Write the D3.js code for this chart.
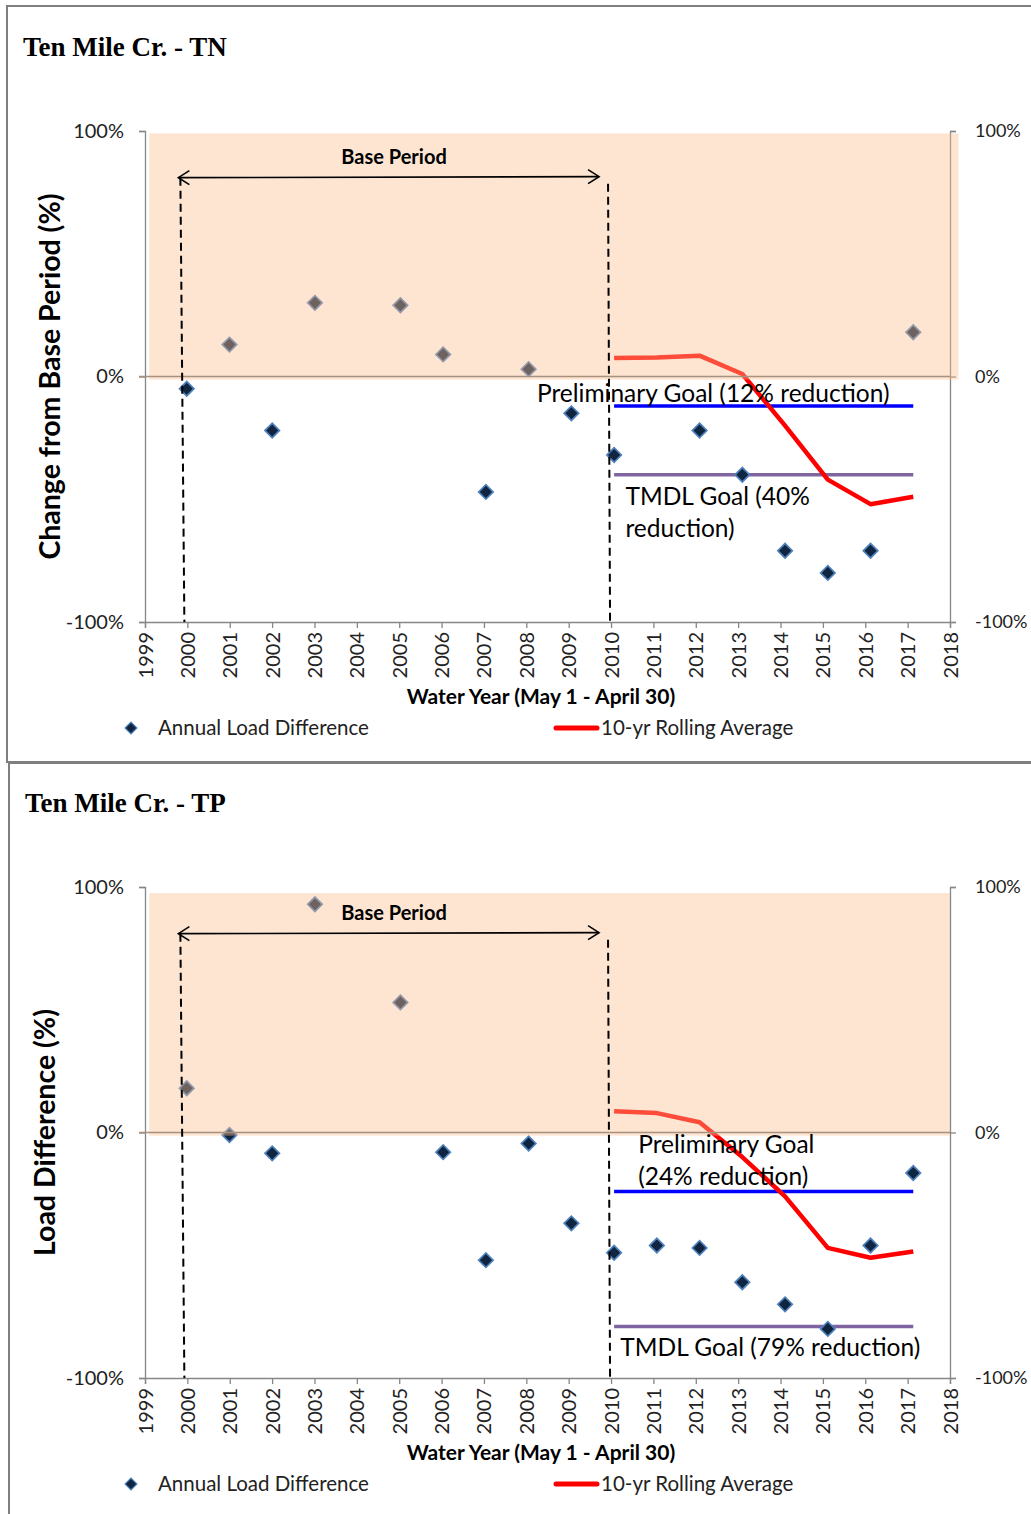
<!DOCTYPE html>
<html>
<head>
<meta charset="utf-8">
<script src="https://cdn.jsdelivr.net/npm/d3@7"></script>
<style>
  body { margin: 0; background: #fff; }
  text { font-family: Lato, "Open Sans", sans-serif; }
</style>
</head>
<body>
<svg id="chart" width="1031" height="1514"></svg>
<script>
// ---- data ----
var waterYears = [2000, 2001, 2002, 2003, 2004, 2005, 2006, 2007, 2008, 2009, 2010, 2011, 2012, 2013, 2014, 2015, 2016, 2017];
var tnAnnual = [-5, 13, -22, 30, null, 29, 9, -47, 3, -15, -32, null, -22, -40, -71, -80, -71, 18];
var tpAnnual = [18, -1, -8.5, 93, null, 53, -8, -52, -4.5, -37, -49, -46, -47, -61, -70, -80, -46, -16.5];

var rollingYears = [2010, 2011, 2012, 2013, 2014, 2015, 2016, 2017];
var tnRolling = [7.5, 7.7, 8.5, 1, -20, -42, -52, -49];
var tpRolling = [8.7, 7.9, 4.2, -10, -26, -47, -51, -48.5];

var goalYears = [2010, 2017];
var tnGoals = { prelim: -12, tmdl: -40 };
var tpGoals = { prelim: -24, tmdl: -79 };

var basePeriod = [2000, 2010];
var yearTicks = [1999, 2000, 2001, 2002, 2003, 2004, 2005, 2006, 2007, 2008, 2009, 2010, 2011, 2012, 2013, 2014, 2015, 2016, 2017, 2018];
var pctTicks = [-100, 0, 100];

var svg = d3.select("#chart");

// panel frames
svg.append("rect").attr("x", 7).attr("y", 6).attr("width", 1100).attr("height", 756)
  .attr("fill", "none").attr("stroke", "#7f7f7f").attr("stroke-width", 2);
svg.append("rect").attr("x", 9).attr("y", 763).attr("width", 1100).attr("height", 800)
  .attr("fill", "none").attr("stroke", "#7f7f7f").attr("stroke-width", 2);

// open arrow heads for the base period arrow
var defs = svg.append("defs");
["start", "end"].forEach(function (k) {
  defs.append("marker")
    .attr("id", "head-" + k)
    .attr("viewBox", "-13 -9 15 18")
    .attr("markerWidth", 15).attr("markerHeight", 18)
    .attr("markerUnits", "userSpaceOnUse")
    .attr("refX", 0).attr("refY", 0)
    .attr("orient", k === "start" ? "auto-start-reverse" : "auto")
    .append("path")
    .attr("d", "M-11,-7 L0,0 L-11,7")
    .attr("fill", "none").attr("stroke", "#000").attr("stroke-width", 1.6);
});

var left = 145, right = 950, top0 = 131, bottom0 = 622;

function drawPanel(opt) {
  var g = svg.append("g").attr("transform", "translate(0," + opt.offset + ")");

  // axis scale, and the (slightly wider) scale the series are plotted on
  var x = d3.scaleLinear().domain([1999, 2018]).range([left, right]);
  var xd = d3.scaleLinear().domain([1999, 2018]).range([left - 1, right + 6]);
  var y = d3.scaleLinear().domain([-100, 100]).range([bottom0, top0]);

  // title
  g.append("text").attr("x", opt.titleX).attr("y", 56)
    .style("font-family", "'Liberation Serif', 'Times New Roman', serif")
    .style("font-weight", "bold").style("font-size", "27px")
    .text(opt.title);

  // axes
  var yl = g.append("g").attr("transform", "translate(" + left + ",0)")
    .call(d3.axisLeft(y).tickValues(pctTicks).tickSize(6).tickPadding(15).tickFormat(function (d) { return d + "%"; }));
  var yr = g.append("g").attr("transform", "translate(" + right + ",0)")
    .call(d3.axisRight(y).tickValues(pctTicks).tickSize(6).tickPadding(19).tickFormat(function (d) { return d + "%"; }));
  var xb = g.append("g").attr("transform", "translate(0," + bottom0 + ")")
    .call(d3.axisBottom(x).tickValues(yearTicks).tickSize(6).tickFormat(d3.format("d")));
  [yl, yr, xb].forEach(function (a) {
    a.select(".domain").attr("stroke", "#868686").attr("stroke-width", 1.3);
    a.selectAll(".tick line").attr("stroke", "#868686").attr("stroke-width", 1.3);
    a.selectAll("text").style("font-size", "20px").style("font-family", "Lato, sans-serif").attr("fill", "#222");
  });
  yr.selectAll("text").style("font-size", "18px");
  xb.selectAll("text")
    .attr("transform", "rotate(-90)")
    .attr("x", -10).attr("y", 0).attr("dy", "0.35em")
    .style("text-anchor", "end");

  // axis titles
  g.append("text")
    .attr("transform", "translate(" + opt.yTitleX + "," + y(0) + ") rotate(-90)")
    .attr("text-anchor", "middle").attr("dy", "0.35em")
    .style("font-weight", "bold").style("font-size", "28.5px")
    .text(opt.yTitle);
  g.append("text").attr("x", 541).attr("y", 704).attr("text-anchor", "middle")
    .style("font-weight", "bold").style("font-size", "21px")
    .text("Water Year (May 1 - April 30)");

  // goal lines
  g.append("line")
    .attr("x1", xd(goalYears[0])).attr("x2", xd(goalYears[1]))
    .attr("y1", y(opt.goals.prelim)).attr("y2", y(opt.goals.prelim))
    .attr("stroke", "#0000ff").attr("stroke-width", 3.5);
  g.append("line")
    .attr("x1", xd(goalYears[0])).attr("x2", xd(goalYears[1]))
    .attr("y1", y(opt.goals.tmdl)).attr("y2", y(opt.goals.tmdl))
    .attr("stroke", "#8064a2").attr("stroke-width", 3.5);

  // rolling average
  var line = d3.line().x(function (d) { return xd(d[0]); }).y(function (d) { return y(d[1]); });
  g.append("path")
    .datum(d3.zip(rollingYears, opt.rolling))
    .attr("d", line)
    .attr("fill", "none").attr("stroke", "#ff0000").attr("stroke-width", 4.5)
    .attr("stroke-linejoin", "round");

  // annual points
  var pts = d3.zip(waterYears, opt.annual).filter(function (d) { return d[1] != null; });
  var diamond = d3.symbol(d3.symbolSquare, 105);
  g.selectAll(".pt").data(pts).enter().append("path")
    .attr("class", "pt")
    .attr("d", diamond)
    .attr("transform", function (d) { return "translate(" + xd(d[0]) + "," + y(d[1]) + ") rotate(45)"; })
    .attr("fill", "#10253f").attr("stroke", "#4f81bd").attr("stroke-width", 1.7);

  // base period shading (semi transparent, over the marks)
  g.append("rect")
    .attr("x", x(1999.1)).attr("y", y(opt.shadeTop))
    .attr("width", x(opt.shadeRight) - x(1999.1))
    .attr("height", y(-1.3) - y(opt.shadeTop))
    .attr("fill", "#f9bf8f").attr("opacity", 0.4);

  // zero line
  g.append("line")
    .attr("x1", left - 6).attr("x2", right)
    .attr("y1", y(0)).attr("y2", y(0))
    .attr("stroke", "#a8917e").attr("stroke-width", 1.3);

  // base period markers
  var arrowY = y(81);
  g.append("line")
    .attr("x1", x(basePeriod[0]) - 7).attr("x2", x(basePeriod[0]) - 3)
    .attr("y1", arrowY).attr("y2", bottom0)
    .attr("stroke", "#000").attr("stroke-width", 2).attr("stroke-dasharray", "8,5");
  g.append("line")
    .attr("x1", x(basePeriod[1]) - 3).attr("x2", x(basePeriod[1]) - 1)
    .attr("y1", arrowY + 6).attr("y2", bottom0)
    .attr("stroke", "#000").attr("stroke-width", 2).attr("stroke-dasharray", "8,5");
  g.append("line")
    .attr("x1", x(basePeriod[0]) - 9).attr("x2", x(basePeriod[1]) - 12)
    .attr("y1", arrowY).attr("y2", arrowY - 1)
    .attr("stroke", "#000").attr("stroke-width", 1.6)
    .attr("marker-start", "url(#head-start)").attr("marker-end", "url(#head-end)");
  g.append("text").attr("x", 394).attr("y", y(89.5)).attr("dy", "0.35em")
    .attr("text-anchor", "middle")
    .style("font-weight", "bold").style("font-size", "20px")
    .text("Base Period");

  // goal labels
  var pl = g.append("text").style("font-size", "24.5px");
  opt.prelimLabel.forEach(function (s, i, arr) {
    pl.append("tspan").attr("x", x(opt.prelimX))
      .attr("y", y(opt.goals.prelim) - opt.prelimGap - (arr.length - 1 - i) * 32)
      .text(s);
  });
  var tl = g.append("text").style("font-size", "24.5px");
  opt.tmdlLabel.forEach(function (s, i) {
    tl.append("tspan").attr("x", x(opt.tmdlX))
      .attr("y", y(opt.goals.tmdl) + 30 + i * 32)
      .text(s);
  });

  // legend
  g.append("path").attr("d", d3.symbol(d3.symbolSquare, 70))
    .attr("transform", "translate(131,728) rotate(45)")
    .attr("fill", "#10253f").attr("stroke", "#4f81bd").attr("stroke-width", 1.2);
  g.append("text").attr("x", 158).attr("y", 735).style("font-size", "20.5px").attr("fill", "#222")
    .text("Annual Load Difference");
  g.append("line").attr("x1", 556).attr("x2", 597).attr("y1", 728).attr("y2", 728)
    .attr("stroke", "#ff0000").attr("stroke-width", 5).attr("stroke-linecap", "round");
  g.append("text").attr("x", 601).attr("y", 735).style("font-size", "20.5px").attr("fill", "#222")
    .text("10-yr Rolling Average");
}

drawPanel({
  offset: 0, titleX: 23, title: "Ten Mile Cr. - TN",
  yTitle: "Change from Base Period (%)", yTitleX: 50,
  annual: tnAnnual, rolling: tnRolling, goals: tnGoals,
  shadeTop: 99, shadeRight: 2018.2,
  prelimLabel: ["Preliminary Goal (12% reduction)"], prelimX: 2008.25, prelimGap: 4,
  tmdlLabel: ["TMDL Goal (40%", "reduction)"], tmdlX: 2010.34
});

drawPanel({
  offset: 756, titleX: 25, title: "Ten Mile Cr. - TP",
  yTitle: "Load Difference (%)", yTitleX: 45,
  annual: tpAnnual, rolling: tpRolling, goals: tpGoals,
  shadeTop: 97.5, shadeRight: 2018,
  prelimLabel: ["Preliminary Goal", "(24% reduction)"], prelimX: 2010.64, prelimGap: 6,
  tmdlLabel: ["TMDL Goal (79% reduction)"], tmdlX: 2010.22
});
</script>
</body>
</html>
